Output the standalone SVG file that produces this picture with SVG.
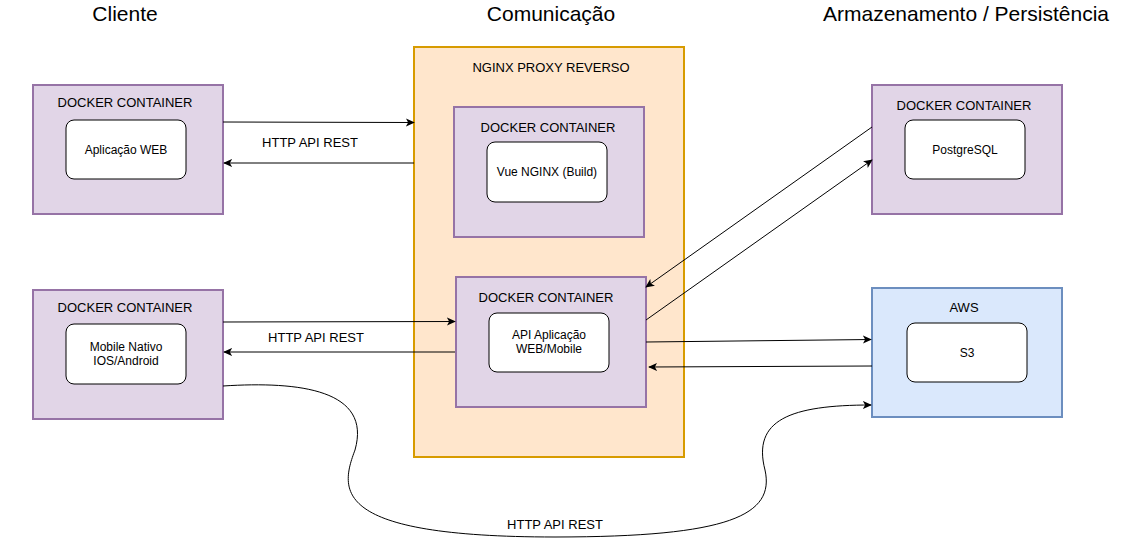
<svg xmlns="http://www.w3.org/2000/svg" width="1133" height="539" viewBox="0 0 1133 539">
<style>
text{font-family:"Liberation Sans",Arial,sans-serif;fill:#000;text-anchor:middle;dominant-baseline:central}
.h{font-size:21px}
.lbl{font-size:13px}
.in{font-size:12px}
.dc{fill:#e1d5e7;stroke:#9673a6;stroke-width:2}
.ng{fill:#ffe6cc;stroke:#d79b00;stroke-width:2}
.aws{fill:#dae8fc;stroke:#6c8ebf;stroke-width:2}
.w{fill:#fff;stroke:#000;stroke-width:1}
.c{fill:none;stroke:#000;stroke-width:1;marker-end:url(#a)}
</style>
<defs>
<marker id="a" viewBox="0 0 10 10" refX="9" refY="5" markerWidth="9" markerHeight="9" markerUnits="userSpaceOnUse" orient="auto">
<path d="M0,0.5 L10,5 L0,9.5 L2.5,5 Z" fill="#000"/>
</marker>
</defs>
<rect width="1133" height="539" fill="#fff"/>
<text class="h" x="125" y="13">Cliente</text>
<text class="h" x="551" y="13">Comunicação</text>
<text class="h" x="966" y="13">Armazenamento / Persistência</text>

<g id="nginx">
<rect class="ng" x="414" y="47" width="270" height="410"/>
<text class="lbl" x="551" y="67">NGINX PROXY REVERSO</text>
</g>
<g id="web">
<rect class="dc" x="33" y="85" width="190" height="129"/>
<text class="lbl" x="125" y="102">DOCKER CONTAINER</text>
<rect class="w" x="66" y="120" width="120" height="59" rx="8"/>
<text class="in" x="126" y="150">Aplicação WEB</text>
</g>
<g id="mobile">
<rect class="dc" x="33" y="290" width="190" height="129"/>
<text class="lbl" x="125" y="307">DOCKER CONTAINER</text>
<rect class="w" x="66" y="324" width="120" height="60" rx="8"/>
<text class="in" x="126" y="347">Mobile Nativo</text>
<text class="in" x="126" y="361">IOS/Android</text>
</g>
<g id="vue">
<rect class="dc" x="454" y="107" width="190" height="130"/>
<text class="lbl" x="548" y="127">DOCKER CONTAINER</text>
<rect class="w" x="487" y="142" width="120" height="60" rx="8"/>
<text class="in" x="547" y="172">Vue NGINX (Build)</text>
</g>
<g id="api">
<rect class="dc" x="456" y="277" width="190" height="130"/>
<text class="lbl" x="546" y="297">DOCKER CONTAINER</text>
<rect class="w" x="489" y="313" width="120" height="59" rx="8"/>
<text class="in" x="549" y="335">API Aplicação</text>
<text class="in" x="549" y="349">WEB/Mobile</text>
</g>
<g id="postgres">
<rect class="dc" x="872" y="85" width="190" height="129"/>
<text class="lbl" x="964" y="105">DOCKER CONTAINER</text>
<rect class="w" x="905" y="120" width="120" height="59" rx="8"/>
<text class="in" x="965" y="150">PostgreSQL</text>
</g>
<g id="aws">
<rect class="aws" x="872" y="288" width="190" height="129"/>
<text class="lbl" x="964" y="307">AWS</text>
<rect class="w" x="907" y="323" width="120" height="59" rx="8"/>
<text class="in" x="967" y="353">S3</text>
</g>

<g id="connectors">
<path class="c" d="M223,122 L414,122.5"/>
<path class="c" d="M414,163 L224,163"/>
<text class="lbl" x="310" y="142">HTTP API REST</text>
<path class="c" d="M223,322 L455,321.5"/>
<path class="c" d="M455,352 L224,352"/>
<text class="lbl" x="316" y="337">HTTP API REST</text>
<path class="c" d="M872,127 L646,287"/>
<path class="c" d="M646,320 L872,160"/>
<path class="c" d="M646,342 L871,339.5"/>
<path class="c" d="M872,366 L649,367"/>
<path class="c" d="M223,386 C300,381 372,390 355,450 C340,490 330,537 555,537 C730,537 775,515 765,470 C752,420 790,405 871,405"/>
<text class="lbl" x="555" y="524">HTTP API REST</text>
</g>
</svg>
